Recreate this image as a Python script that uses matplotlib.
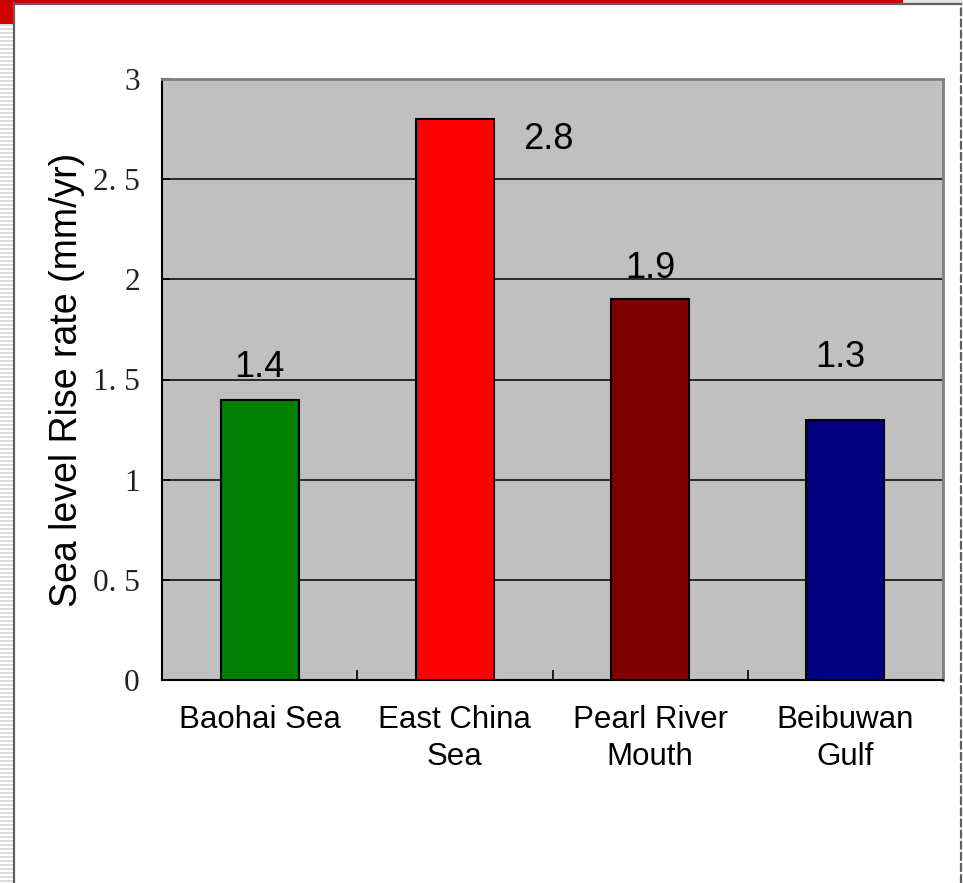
import matplotlib.pyplot as plt
from matplotlib.patches import Rectangle
from matplotlib.lines import Line2D

# Dados do gráfico
regioes = ['Baohai Sea', 'East China\nSea', 'Pearl River\nMouth', 'Beibuwan\nGulf']
taxas = [1.4, 2.8, 1.9, 1.3]
cores = ['#008000', '#FF0000', '#800000', '#000080']
yticks = [0, 0.5, 1, 1.5, 2, 2.5, 3]
ytick_labels = ['0', '0. 5', '1', '1. 5', '2', '2. 5', '3']

W, H = 963, 883
fig = plt.figure(figsize=(W / 100, H / 100), dpi=100)
fig.patch.set_facecolor('white')

# Moldura do slide: faixa listrada à esquerda, bloco vermelho e bordas
for y0 in range(24, H, 4):
    fig.patches.append(Rectangle((0, 1 - (y0 + 2) / H), 13 / W, 2 / H,
                                 transform=fig.transFigure, color='#dcdcdc', lw=0))
fig.patches.append(Rectangle((0, 1 - 24 / H), 13 / W, 24 / H,
                             transform=fig.transFigure, color='#cc0000', lw=0))
fig.patches.append(Rectangle((13 / W, 1 - 3 / H), 890 / W, 3 / H,
                             transform=fig.transFigure, color='#cc0000', lw=0))
fig.patches.append(Rectangle((903 / W, 1 - 3 / H), 60 / W, 3 / H,
                             transform=fig.transFigure, color='#e4e4e4', lw=0))
fig.lines.append(Line2D([13.5 / W, 13.5 / W], [0, 1 - 3 / H], transform=fig.transFigure,
                        color='#606060', lw=1.6))
fig.lines.append(Line2D([13.5 / W, 960.5 / W], [1 - 4 / H, 1 - 4 / H], transform=fig.transFigure,
                        color='#606060', lw=1.6))
fig.lines.append(Line2D([960.5 / W, 960.5 / W], [0, 1 - 4 / H], transform=fig.transFigure,
                        color='#606060', lw=1.6, ls=(0, (4, 1))))

ax = fig.add_axes([162 / W, 1 - 680 / H, 781 / W, 601 / H])
ax.set_facecolor('#c0c0c0')

x = range(len(regioes))
ax.bar(x, taxas, width=0.4, color=cores, edgecolor='black', linewidth=1.5, zorder=3)

ax.set_xlim(-0.5, len(regioes) - 0.5)
ax.set_ylim(0, 3)
ax.set_yticks(yticks)
ax.set_yticklabels(ytick_labels, family='Liberation Serif', fontsize=22.5, color='#222222')
ax.set_xticks(x)
ax.set_xticklabels(regioes, fontsize=22.5, family='Liberation Sans', linespacing=1.3)
ax.tick_params(axis='x', length=0, pad=18)
ax.tick_params(axis='y', direction='in', length=6, width=1.2, pad=16)

# marcas entre as categorias
ax.set_xticks([0.5, 1.5, 2.5], minor=True)
ax.tick_params(axis='x', which='minor', direction='in', length=7, width=1.2)

ax.grid(axis='y', color='black', linewidth=1.1, zorder=0)
ax.set_axisbelow(True)
for lado in ['left', 'bottom']:
    ax.spines[lado].set_color('black')
    ax.spines[lado].set_linewidth(1.5)
for lado in ['top', 'right']:
    ax.spines[lado].set_color('#808080')
    ax.spines[lado].set_linewidth(2)

ax.set_ylabel('Sea level Rise rate (mm/yr)', fontsize=27, family='Liberation Sans', labelpad=6)

# rótulos de valor
deslocamentos = [(0, 23), (67, -15), (0, 22), (-4, 45)]
for i, (v, d) in enumerate(zip(taxas, deslocamentos)):
    ax.annotate(f'{v}', (i, v), xytext=d, textcoords='offset points',
                ha='center', va='center', fontsize=26, family='Liberation Sans', zorder=4)

fig.savefig('out.png', dpi=100)
